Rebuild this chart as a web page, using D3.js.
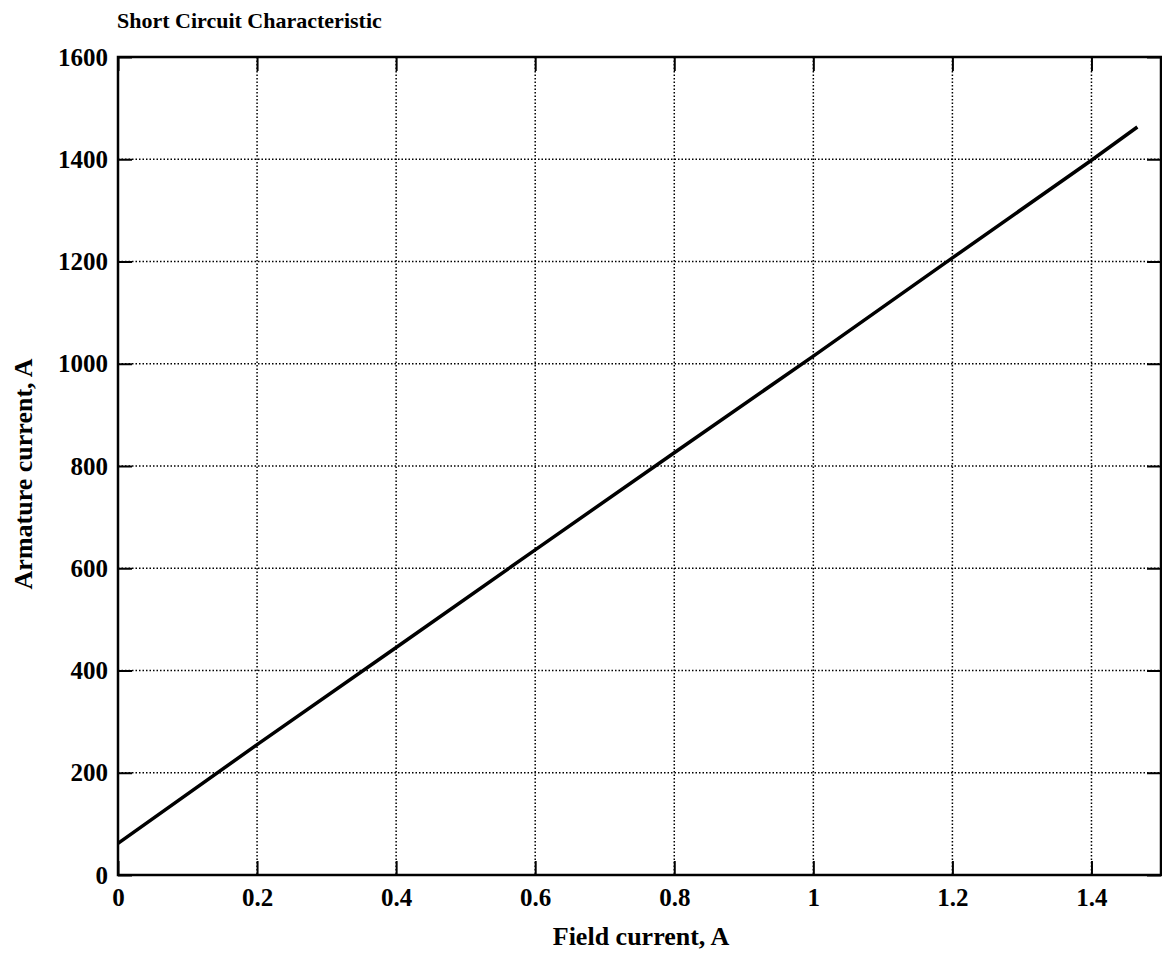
<!DOCTYPE html>
<html>
<head>
<meta charset="utf-8">
<script src="https://cdn.jsdelivr.net/npm/d3@7"></script>
<style>
  body { margin: 0; background: #fff; }
  svg { display: block; }
  text { font-family: "Liberation Serif", "DejaVu Serif", serif; fill: #000; }
</style>
</head>
<body>
<svg id="chart" width="1162" height="953"></svg>
<script>
// Data
const fieldCurrent = [0, 0.2, 0.4, 0.6, 0.8, 1.0, 1.2, 1.4, 1.466];
const armatureCurrent = [62, 255, 445, 636, 826, 1015, 1207, 1398, 1463];
const xTicks = [0, 0.2, 0.4, 0.6, 0.8, 1, 1.2, 1.4];
const yTicks = [0, 200, 400, 600, 800, 1000, 1200, 1400, 1600];
const xTickLabels = ["0", "0.2", "0.4", "0.6", "0.8", "1", "1.2", "1.4"];
const yTickLabels = ["0", "200", "400", "600", "800", "1000", "1200", "1400", "1600"];
const titleText = "Short Circuit Characteristic";
const xLabel = "Field current, A";
const yLabel = "Armature current, A";

const margin = { left: 118, right: 1161, top: 57, bottom: 875 };
const svg = d3.select("#chart");

const x = d3.scaleLinear().domain([0, 1.5]).range([margin.left, margin.right]);
const y = d3.scaleLinear().domain([0, 1600]).range([margin.bottom, margin.top]);

const tickLen = 14;

// Grid lines (dotted)
const grid = svg.append("g");
grid.selectAll(".gx").data(xTicks.filter(d => d > 0)).enter().append("line")
  .attr("x1", d => x(d)).attr("x2", d => x(d))
  .attr("y1", margin.top).attr("y2", margin.bottom)
  .attr("stroke", "#000").attr("stroke-width", 1.5).attr("stroke-dasharray", "1.5,2");
grid.selectAll(".gy").data(yTicks.filter(d => d > 0 && d < 1600)).enter().append("line")
  .attr("y1", d => y(d)).attr("y2", d => y(d))
  .attr("x1", margin.left).attr("x2", margin.right)
  .attr("stroke", "#000").attr("stroke-width", 1.5).attr("stroke-dasharray", "1.5,2");

// Axes with inward ticks
const xAxisB = d3.axisBottom(x).tickValues(xTicks).tickSize(-tickLen).tickFormat((d, i) => xTickLabels[i]).tickPadding(13);
const xAxisT = d3.axisTop(x).tickValues(xTicks).tickSize(-tickLen).tickFormat("");
const yAxisL = d3.axisLeft(y).tickValues(yTicks).tickSize(-tickLen).tickFormat((d, i) => yTickLabels[i]).tickPadding(10);
const yAxisR = d3.axisRight(y).tickValues(yTicks).tickSize(-tickLen).tickFormat("");

function styleAxis(g) {
  g.select(".domain").remove();
  g.selectAll(".tick line").attr("stroke", "#000").attr("stroke-width", 2);
  g.selectAll(".tick text").style("font-family", "'Liberation Serif', serif")
    .style("font-size", "25px").style("font-weight", "bold").attr("fill", "#000");
}

svg.append("g").attr("transform", `translate(0,${margin.bottom})`).call(xAxisB).call(styleAxis);
svg.append("g").attr("transform", `translate(0,${margin.top})`).call(xAxisT).call(styleAxis);
svg.append("g").attr("transform", `translate(${margin.left},0)`).call(yAxisL).call(styleAxis);
svg.append("g").attr("transform", `translate(${margin.right},0)`).call(yAxisR).call(styleAxis);

// Border
svg.append("rect")
  .attr("x", margin.left).attr("y", margin.top)
  .attr("width", margin.right - margin.left).attr("height", margin.bottom - margin.top)
  .attr("fill", "none").attr("stroke", "#000").attr("stroke-width", 2.5);

// Data line
const line = d3.line().x((d, i) => x(fieldCurrent[i])).y(d => y(d));
svg.append("path").datum(armatureCurrent)
  .attr("d", line).attr("fill", "none").attr("stroke", "#000").attr("stroke-width", 3.5);

// Title and labels
svg.append("text").attr("x", 117).attr("y", 28).style("font-size", "22px").style("font-weight", "bold").text(titleText);
svg.append("text").attr("x", 641).attr("y", 945).attr("text-anchor", "middle").style("font-size", "26px").style("font-weight", "bold").text(xLabel);
svg.append("text").attr("transform", "translate(32,474) rotate(-90)").attr("text-anchor", "middle").style("font-size", "26px").style("font-weight", "bold").text(yLabel);
</script>
</body>
</html>
